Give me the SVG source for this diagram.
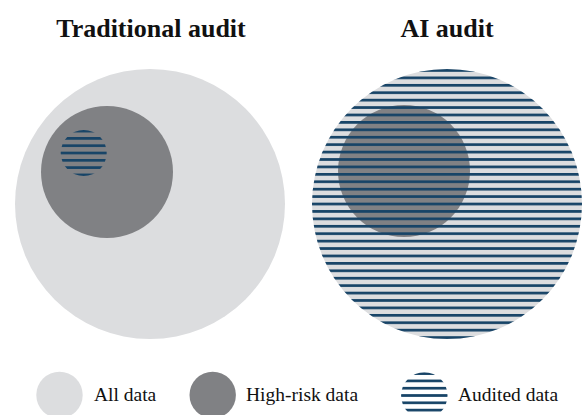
<svg xmlns="http://www.w3.org/2000/svg" width="585" height="415" viewBox="0 0 585 415">
  <style>
    .title { font-family: "Liberation Serif", "Times New Roman", serif; font-weight: bold; font-size: 26px; fill: #111; text-anchor: middle; }
    .label { font-family: "Liberation Serif", "Times New Roman", serif; font-size: 19.5px; fill: #111; }
    .all { fill: #dcdddf; }
    .risk { fill: #808184; }
  </style>
  <defs>
    <!-- horizontal navy stripes, one stripe centred on each circle's centre line -->
    <pattern id="stripesBig" patternUnits="userSpaceOnUse" width="585" height="7.42" patternTransform="translate(0 202.65)">
      <rect x="0" y="0" width="585" height="2.7" fill="#174467"/>
    </pattern>
    <pattern id="stripesSmall" patternUnits="userSpaceOnUse" width="585" height="7.3" patternTransform="translate(0 151.65)">
      <rect x="0" y="0" width="585" height="2.7" fill="#174467"/>
    </pattern>
    <pattern id="stripesKey" patternUnits="userSpaceOnUse" width="585" height="7.3" patternTransform="translate(0 394.15)">
      <rect x="0" y="0" width="585" height="2.7" fill="#174467"/>
    </pattern>
  </defs>

  <text class="title" x="151" y="37">Traditional audit</text>
  <text class="title" x="447" y="37">AI audit</text>

  <!-- traditional audit: all data, high-risk subset, small audited sample -->
  <g id="traditional-all">
    <circle class="all" cx="150" cy="204" r="135"/>
  </g>
  <g id="traditional-risk">
    <circle class="risk" cx="107" cy="172" r="66"/>
  </g>
  <g id="traditional-audited">
    <circle fill="url(#stripesSmall)" cx="83.7" cy="153" r="23"/>
  </g>

  <!-- AI audit: everything audited -->
  <g id="ai-all">
    <circle class="all" cx="447" cy="204" r="135"/>
  </g>
  <g id="ai-risk">
    <circle class="risk" cx="404" cy="171" r="66"/>
  </g>
  <g id="ai-audited">
    <circle fill="url(#stripesBig)" cx="447" cy="204" r="135"/>
  </g>

  <!-- legend -->
  <g id="key-all">
    <circle class="all" cx="59.5" cy="395" r="23.2"/>
    <text class="label" x="94" y="401">All data</text>
  </g>
  <g id="key-risk">
    <circle class="risk" cx="212.7" cy="395" r="23.2"/>
    <text class="label" x="246" y="401">High-risk data</text>
  </g>
  <g id="key-audited">
    <circle fill="url(#stripesKey)" cx="424.3" cy="395.5" r="23.2"/>
    <text class="label" x="458" y="401">Audited data</text>
  </g>
</svg>
